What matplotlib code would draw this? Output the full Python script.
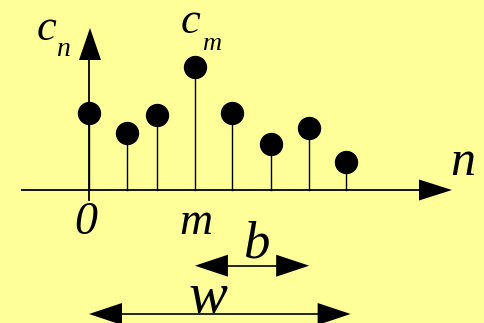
import matplotlib
matplotlib.use("Agg")
import matplotlib.pyplot as plt

# ---- data ----
n_pos = [0.0, 1.0, 1.8, 2.81, 3.79, 4.83, 5.84, 6.82]     # sample positions (n)
c_val = [7.67, 5.73, 7.53, 12.27, 7.67, 4.6, 6.23, 2.77]  # coefficient magnitudes c_n
m_index = 3
b_end = 5.84
w_end = 6.94

W, H = 484, 323
X0, SX = 89.0, 37.7   # pixel origin / pixels per unit in x
Y0, SY = 190.0, 10.0  # pixel origin / pixels per unit in y

def p(xpx, ypx):
    return ((xpx - X0) / SX, (Y0 - ypx) / SY)

BG = "#FFFF99"
fig = plt.figure(figsize=(W / 100, H / 100), dpi=100, facecolor=BG)
ax = fig.add_axes([0, 0, 1, 1])
ax.set_facecolor(BG)
ax.set_xlim(p(0, 0)[0], p(W, 0)[0])
ax.set_ylim(p(0, H)[1], p(0, 0)[1])
ax.axis("off")

def tri(pts):
    xs, ys = zip(*[p(*q) for q in pts])
    ax.fill(xs, ys, color="black", lw=0, zorder=5)

def hline(x1, x2, y, lw=1.3):
    a, b = p(x1, y), p(x2, y)
    ax.plot([a[0], b[0]], [a[1], b[1]], color="black", lw=lw, solid_capstyle="butt")

# axes
hline(21, 420, 190, lw=1.3)
tri([(419, 179.5), (452, 190), (419, 200.5)])
a, b = p(89, 200), p(89, 60)
ax.plot([a[0], b[0]], [a[1], b[1]], color="black", lw=1.3)
tri([(79, 60), (90, 28), (101, 60)])

# stems and dots
for x, c in zip(n_pos, c_val):
    ax.plot([x, x], [0, c], color="black", lw=1.0, zorder=3)
ax.plot(n_pos, c_val, "o", color="black", ms=15.8, zorder=4)

# b arrow
xm_px = X0 + n_pos[m_index] * SX
xb_px = X0 + b_end * SX
hline(xm_px + 30, xb_px - 30, 265.7, lw=1.2)
tri([(xm_px, 265.7), (xm_px + 33, 254.7), (xm_px + 33, 276.7)])
tri([(xb_px, 265.7), (xb_px - 33, 254.7), (xb_px - 33, 276.7)])

# w arrow
xw0 = X0 + n_pos[0] * SX
xw1 = X0 + w_end * SX
hline(xw0 + 30, xw1 - 30, 314, lw=1.2)
tri([(xw0, 314), (xw0 + 33, 303), (xw0 + 33, 325)])
tri([(xw1, 314), (xw1 - 33, 303), (xw1 - 33, 325)])

FONT = "Liberation Serif"
def txt(xpx, ypx, s, size):
    ax.text(*p(xpx, ypx), s, fontsize=size, family=FONT, style="italic",
            ha="center", va="baseline", color="black")

txt(46.5, 40, "c", 32)
txt(63, 56, "n", 20)
txt(190, 33, "c", 32)
txt(212, 50, "m", 19)
txt(463, 175, "n", 36)
txt(86, 234, "0", 33)
txt(196, 234, "m", 33)
txt(256.5, 257, "b", 38)
txt(208.5, 312, "w", 42)

fig.savefig("out.png", dpi=100, facecolor=BG)
